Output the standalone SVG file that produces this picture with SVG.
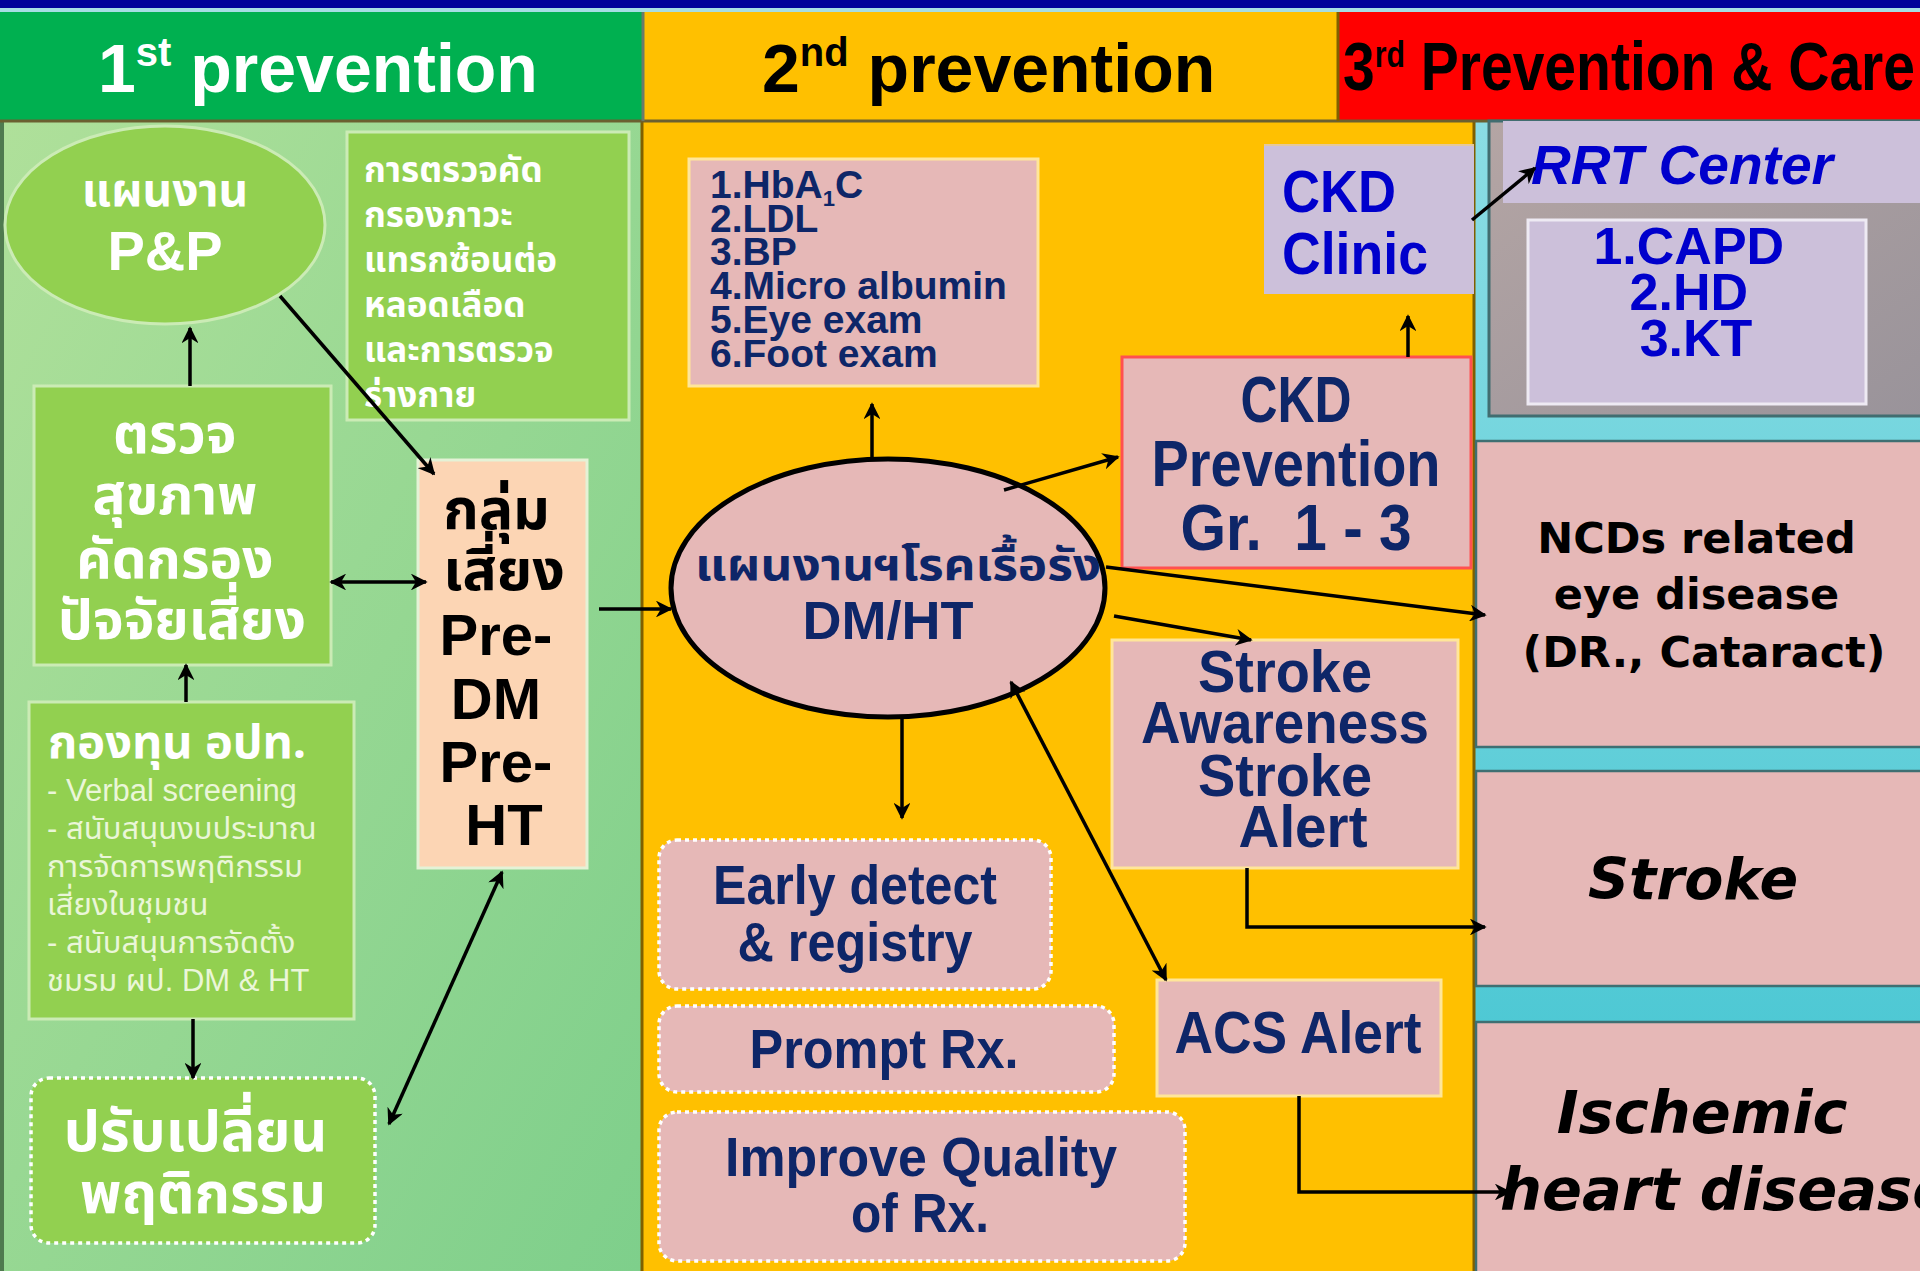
<svg xmlns="http://www.w3.org/2000/svg" width="1920" height="1271" viewBox="0 0 1920 1271">
<style>
.hd{font-family:"Liberation Sans",Arial,sans-serif;font-weight:bold;font-size:68px}
.th{font-family:"Noto Sans Thai","Noto Sans Thai UI","Loma","Garuda","Liberation Sans","DejaVu Sans",sans-serif;font-weight:bold}
.en{font-family:"Liberation Sans",Arial,sans-serif;font-weight:bold}
.vd{font-family:"DejaVu Sans","Liberation Sans",sans-serif;font-weight:bold;fill:#000}
.navy{fill:#0E2668}
.blue{fill:#0000CC}
.wt{fill:#FFFFFF}
.gbox{fill:#92D050;stroke:#CBEBB5;stroke-width:3}
.pink{fill:#E6B8B7;stroke:#FFE699;stroke-width:3}
.dot{stroke:#FFFFFF;stroke-width:3.5;stroke-dasharray:4 4}
.ln{stroke:#000;stroke-width:3.5;fill:none;marker-end:url(#ah)}
.dbl{marker-start:url(#ah)}
.rt{fill:#E6B8B7;stroke:#3F6F72;stroke-width:2.5}
</style>
<defs>
<linearGradient id="gBody" x1="0" y1="0" x2="1" y2="1">
<stop offset="0" stop-color="#AFE09A"/><stop offset="1" stop-color="#7ECF8B"/>
</linearGradient>
<linearGradient id="gTeal" x1="0" y1="0" x2="0" y2="1">
<stop offset="0" stop-color="#8BDDE4"/><stop offset="1" stop-color="#3EC3D0"/>
</linearGradient>
<linearGradient id="gGray" x1="0" y1="0" x2="1" y2="1">
<stop offset="0" stop-color="#B4A5A4"/><stop offset="1" stop-color="#99939A"/>
</linearGradient>
<marker id="ah" viewBox="0 0 10 10" refX="9" refY="5" markerWidth="4.8" markerHeight="4.8" orient="auto-start-reverse" markerUnits="strokeWidth">
<path d="M0,0 L10,5 L0,10 L3,5 z" fill="#000"/>
</marker>
</defs>

<!-- background panels -->
<rect x="0" y="0" width="1920" height="1271" fill="#FFC000"/>
<rect x="0" y="0" width="1920" height="8" fill="#000099"/>
<rect x="0" y="8" width="1920" height="4" fill="#A6DDE4"/>
<rect x="0" y="121" width="642" height="1150" fill="url(#gBody)"/>
<rect x="0" y="121" width="4" height="1150" fill="#4F7A4F"/>
<rect x="643" y="121" width="831" height="1150" fill="#FFC000"/>
<rect x="1475" y="121" width="445" height="1150" fill="url(#gTeal)"/>
<line x1="642" y1="121" x2="642" y2="1271" stroke="#7F6000" stroke-width="3"/>
<line x1="1474" y1="121" x2="1474" y2="1271" stroke="#7F6000" stroke-width="3"/>

<!-- headers -->
<g id="header-1">
<rect x="0" y="12" width="643" height="108" fill="#00B050"/>
<text class="hd wt" x="98" y="92">1<tspan font-size="40" dy="-26">st</tspan><tspan dy="26"> prevention</tspan></text>
</g>
<g id="header-2">
<rect x="643" y="12" width="695" height="108" fill="#FFC000"/>
<text class="hd" fill="#000" x="762" y="92">2<tspan font-size="40" dy="-26">nd</tspan><tspan dy="26"> prevention</tspan></text>
</g>
<g id="header-3">
<rect x="1338" y="12" width="582" height="108" fill="#FF0000"/>
<text class="hd" fill="#000" font-size="60" x="1343" y="90" textLength="572" lengthAdjust="spacingAndGlyphs">3<tspan font-size="36" dy="-23">rd</tspan><tspan dy="23"> Prevention &amp; Care</tspan></text>
</g>
<line x1="0" y1="121" x2="1920" y2="121" stroke="#6B6030" stroke-width="3"/>
<line x1="1338" y1="12" x2="1338" y2="121" stroke="#7F6000" stroke-width="3"/>
<line x1="643" y1="12" x2="643" y2="121" stroke="#6B7A6B" stroke-width="3"/>

<!-- 1st prevention nodes -->
<g id="pp">
<ellipse cx="165" cy="225" rx="160" ry="99" class="gbox"/>
<text class="th wt" x="165" y="206" font-size="46" text-anchor="middle">แผนงาน</text>
<text class="en wt" x="165" y="270" font-size="56" text-anchor="middle">P&amp;P</text>
</g>
<g id="screen-complication">
<rect x="347" y="132" width="282" height="288" class="gbox"/>
<text class="th wt" font-size="35">
<tspan x="364" y="182">การตรวจคัด</tspan>
<tspan x="364" y="227">กรองภาวะ</tspan>
<tspan x="364" y="272">แทรกซ้อนต่อ</tspan>
<tspan x="364" y="317">หลอดเลือด</tspan>
<tspan x="364" y="362">และการตรวจ</tspan>
<tspan x="364" y="407">ร่างกาย</tspan>
</text>
</g>
<g id="health-check">
<rect x="34" y="386" width="297" height="279" class="gbox"/>
<text class="th wt" font-size="55" text-anchor="middle">
<tspan x="182" y="453">ตรวจ</tspan>
<tspan x="182" y="514">สุขภาพ</tspan>
<tspan x="182" y="578">คัดกรอง</tspan>
<tspan x="182" y="639">ปัจจัยเสี่ยง</tspan>
</text>
</g>
<g id="fund">
<rect x="29" y="702" width="325" height="317" class="gbox"/>
<text class="th wt" font-size="47" x="48" y="758">กองทุน อปท.</text>
<text font-family="'Liberation Sans','Noto Sans Thai',sans-serif" font-size="31" fill="#EAF6D8">
<tspan x="47" y="801">- Verbal screening</tspan>
<tspan x="47" y="839">- สนับสนุนงบประมาณ</tspan>
<tspan x="47" y="877">การจัดการพฤติกรรม</tspan>
<tspan x="47" y="915">เสี่ยงในชุมชน</tspan>
<tspan x="47" y="953">- สนับสนุนการจัดตั้ง</tspan>
<tspan x="47" y="991">ชมรม ผป. DM &amp; HT</tspan>
</text>
</g>
<g id="behavior">
<rect x="31" y="1078" width="344" height="165" rx="18" fill="#92D050" class="dot"/>
<text class="th wt" font-size="57" text-anchor="middle">
<tspan x="203" y="1151">ปรับเปลี่ยน</tspan>
<tspan x="203" y="1213">พฤติกรรม</tspan>
</text>
</g>
<g id="risk-group">
<rect x="418" y="460" width="169" height="408" fill="#FCD5B4" stroke="#E4F2D6" stroke-width="3"/>
<text class="th" fill="#000" font-size="57" text-anchor="middle">
<tspan x="504" y="529">กลุ่ม</tspan>
<tspan x="504" y="590">เสี่ยง</tspan>
</text>
<text class="en" fill="#000" font-size="58" text-anchor="middle">
<tspan x="504" y="655">Pre-</tspan>
<tspan x="504" y="719">DM</tspan>
<tspan x="504" y="782">Pre-</tspan>
<tspan x="504" y="845">HT</tspan>
</text>
</g>

<!-- 2nd prevention nodes -->
<g id="lab-list">
<rect x="689" y="159" width="349" height="227" class="pink"/>
<text class="en navy" font-size="39">
<tspan x="710" y="198">1.HbA<tspan font-size="22" dy="8">1</tspan><tspan dy="-8">C</tspan></tspan>
<tspan x="710" y="232">2.LDL</tspan>
<tspan x="710" y="265">3.BP</tspan>
<tspan x="710" y="299">4.Micro albumin</tspan>
<tspan x="710" y="333">5.Eye exam</tspan>
<tspan x="710" y="367">6.Foot exam</tspan>
</text>
</g>
<g id="ckd-clinic">
<rect x="1264" y="144" width="210" height="150" fill="#CCC0DA"/>
<line x1="1264" y1="145" x2="1474" y2="145" stroke="#E5C89A" stroke-width="2"/>
<text class="en blue" font-size="60" x="1282" y="212" textLength="114" lengthAdjust="spacingAndGlyphs">CKD</text>
<text class="en blue" font-size="60" x="1282" y="274" textLength="146" lengthAdjust="spacingAndGlyphs">Clinic</text>
</g>
<g id="ckd-prevention">
<rect x="1122" y="357" width="349" height="211" fill="#E6B8B7" stroke="#FF5050" stroke-width="3"/>
<text class="en navy" font-size="64" text-anchor="middle" x="1296" y="422" textLength="111" lengthAdjust="spacingAndGlyphs">CKD</text>
<text class="en navy" font-size="64" text-anchor="middle" x="1296" y="486" textLength="289" lengthAdjust="spacingAndGlyphs">Prevention</text>
<text class="en navy" font-size="64" text-anchor="middle" x="1296" y="550" textLength="231" lengthAdjust="spacingAndGlyphs" xml:space="preserve">Gr.  1 - 3</text>
</g>
<g id="dm-ht-plan">
<ellipse cx="888" cy="588" rx="217" ry="129" fill="#E6B8B7" stroke="#000" stroke-width="5"/>
<text class="th navy" font-size="44" x="898" y="580" text-anchor="middle" textLength="406" lengthAdjust="spacingAndGlyphs">แผนงานฯโรคเรื้อรัง</text>
<text class="en navy" font-size="54" x="888" y="639" text-anchor="middle">DM/HT</text>
</g>
<g id="stroke-awareness">
<rect x="1112" y="640" width="346" height="228" class="pink"/>
<text class="en navy" font-size="60" text-anchor="middle" x="1285" y="692" textLength="174" lengthAdjust="spacingAndGlyphs">Stroke</text>
<text class="en navy" font-size="60" text-anchor="middle" x="1285" y="743" textLength="288" lengthAdjust="spacingAndGlyphs">Awareness</text>
<text class="en navy" font-size="60" text-anchor="middle" x="1285" y="796" textLength="174" lengthAdjust="spacingAndGlyphs">Stroke</text>
<text class="en navy" font-size="60" text-anchor="middle" x="1303" y="847" textLength="129" lengthAdjust="spacingAndGlyphs">Alert</text>
</g>
<g id="acs-alert">
<rect x="1157" y="980" width="284" height="116" class="pink"/>
<text class="en navy" font-size="60" text-anchor="middle" x="1298" y="1053" textLength="247" lengthAdjust="spacingAndGlyphs">ACS Alert</text>
</g>
<g id="early-detect">
<rect x="659" y="840" width="392" height="149" rx="18" fill="#E6B8B7" class="dot"/>
<text class="en navy" font-size="56" text-anchor="middle" x="855" y="904" textLength="284" lengthAdjust="spacingAndGlyphs">Early detect</text>
<text class="en navy" font-size="56" text-anchor="middle" x="855" y="961" textLength="235" lengthAdjust="spacingAndGlyphs">&amp; registry</text>
</g>
<g id="prompt-rx">
<rect x="659" y="1006" width="455" height="86" rx="18" fill="#E6B8B7" class="dot"/>
<text class="en navy" font-size="56" text-anchor="middle" x="884" y="1068" textLength="269" lengthAdjust="spacingAndGlyphs">Prompt Rx.</text>
</g>
<g id="improve-quality">
<rect x="659" y="1112" width="526" height="149" rx="18" fill="#E6B8B7" class="dot"/>
<text class="en navy" font-size="56" text-anchor="middle" x="921" y="1176" textLength="392" lengthAdjust="spacingAndGlyphs">Improve Quality</text>
<text class="en navy" font-size="56" text-anchor="middle" x="920" y="1232" textLength="138" lengthAdjust="spacingAndGlyphs">of Rx.</text>
</g>

<!-- 3rd prevention nodes -->
<g id="rrt-center">
<rect x="1489" y="121" width="440" height="295" fill="url(#gGray)" stroke="#416D70" stroke-width="3"/>
<rect x="1503" y="121" width="417" height="82" fill="#CCC0DA"/>
<text class="en blue" font-style="italic" font-size="55" x="1531" y="184" textLength="302" lengthAdjust="spacingAndGlyphs">RRT Center</text>
<rect x="1528" y="220" width="338" height="184" fill="#CCC0DA" stroke="#EEEAF3" stroke-width="3"/>
<text class="en blue" font-size="52" text-anchor="middle">
<tspan x="1696" y="264">1.CAPD</tspan>
<tspan x="1696" y="310">2.HD</tspan>
<tspan x="1696" y="356">3.KT</tspan>
</text>
</g>
<g id="ncd-eye">
<rect x="1476" y="441" width="450" height="306" class="rt"/>
<text class="vd" font-size="43" text-anchor="middle">
<tspan x="1704" y="553">NCDs related</tspan>
<tspan x="1704" y="609">eye disease</tspan>
<tspan x="1704" y="667">(DR., Cataract)</tspan>
</text>
</g>
<g id="stroke">
<rect x="1476" y="771" width="450" height="215" class="rt"/>
<text class="vd" font-style="italic" font-size="57" x="1693" y="899" text-anchor="middle">Stroke</text>
</g>
<g id="ischemic">
<rect x="1476" y="1022" width="450" height="260" class="rt"/>
<text class="vd" font-style="italic" font-size="59" x="1702" y="1133" text-anchor="middle">Ischemic</text>
<text class="vd" font-style="italic" font-size="59" x="1500" y="1210">heart disease</text>
</g>

<!-- connectors -->
<g id="connectors">
<line class="ln" x1="190" y1="386" x2="190" y2="328"/>
<line class="ln" x1="280" y1="296" x2="434" y2="474"/>
<line class="ln dbl" x1="331" y1="582" x2="426" y2="582"/>
<line class="ln" x1="186" y1="702" x2="186" y2="665"/>
<line class="ln" x1="193" y1="1019" x2="193" y2="1078"/>
<line class="ln dbl" x1="502" y1="872" x2="389" y2="1124"/>
<line class="ln" x1="599" y1="609" x2="671" y2="609"/>
<line class="ln" x1="872" y1="459" x2="872" y2="404"/>
<line class="ln" x1="1004" y1="490" x2="1118" y2="457"/>
<line class="ln" x1="1106" y1="567" x2="1485" y2="615"/>
<line class="ln" x1="1114" y1="616" x2="1251" y2="640"/>
<line class="ln" x1="902" y1="719" x2="902" y2="818"/>
<line class="ln dbl" x1="1011" y1="682" x2="1166" y2="980"/>
<line class="ln" x1="1408" y1="357" x2="1408" y2="316"/>
<line class="ln" x1="1472" y1="220" x2="1535" y2="168"/>
<polyline class="ln" points="1247,868 1247,927 1485,927"/>
<polyline class="ln" points="1299,1096 1299,1192 1510,1192"/>
</g>
</svg>
